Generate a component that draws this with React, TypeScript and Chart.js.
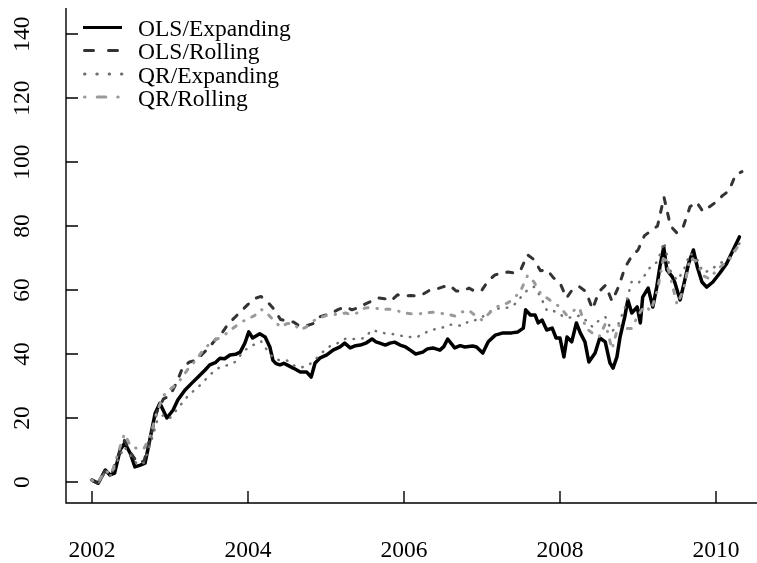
import React, { useEffect, useRef } from 'react';
import { Chart, registerables } from 'chart.js';

Chart.register(...registerables);

// OLS/Expanding: dates (decimal years) and values
const olsExpandingDates = [
  2002.00, 2002.08, 2002.17, 2002.23, 2002.29, 2002.36, 2002.42, 2002.49, 2002.55, 2002.62,
  2002.68, 2002.74, 2002.81, 2002.87, 2002.96, 2003.04, 2003.10, 2003.19, 2003.28, 2003.36,
  2003.45, 2003.51, 2003.58, 2003.64, 2003.70, 2003.77, 2003.84, 2003.90, 2003.96, 2004.01,
  2004.06, 2004.15, 2004.22, 2004.28, 2004.32, 2004.36, 2004.41, 2004.46, 2004.50, 2004.58,
  2004.67, 2004.75, 2004.81, 2004.86, 2004.92, 2005.01, 2005.09, 2005.18, 2005.24, 2005.31,
  2005.38, 2005.44, 2005.52, 2005.59, 2005.64, 2005.69, 2005.76, 2005.82, 2005.88, 2005.95,
  2006.02, 2006.08, 2006.15, 2006.24, 2006.30, 2006.37, 2006.46, 2006.51, 2006.56, 2006.65,
  2006.72, 2006.78, 2006.88, 2006.93, 2007.01, 2007.08, 2007.17, 2007.27, 2007.38, 2007.46,
  2007.53, 2007.56, 2007.62, 2007.68, 2007.72, 2007.77, 2007.83, 2007.90, 2007.95, 2008.00,
  2008.05, 2008.09, 2008.15, 2008.21, 2008.26, 2008.32, 2008.37, 2008.45, 2008.51, 2008.58,
  2008.64, 2008.68, 2008.73, 2008.77, 2008.83, 2008.87, 2008.92, 2008.99, 2009.03, 2009.06,
  2009.13, 2009.19, 2009.24, 2009.28, 2009.33, 2009.37, 2009.44, 2009.47, 2009.54, 2009.60,
  2009.65, 2009.71, 2009.76, 2009.82, 2009.88, 2009.96, 2010.05, 2010.14, 2010.22, 2010.30,
];
const olsExpanding = [
  0.6, -0.4, 3.75, 2.2, 2.8, 10, 12.2, 9, 4.7, 5.3,
  5.9, 13, 21.5, 24.6, 20, 22.5, 25.6, 28.7, 30.9, 32.8,
  35, 36.6, 37.3, 38.7, 38.5, 39.7, 39.9, 40.6, 43.4, 46.9,
  45, 46.3, 45.3, 42.2, 38, 37, 36.6, 37.1, 36.6, 35.6,
  34.4, 34.4, 32.8, 37.2, 38.7, 39.7, 41.2, 42.2, 43.4, 41.9,
  42.6, 42.8, 43.5, 44.7, 43.8, 43.4, 42.8, 43.4, 43.7, 42.8,
  42.2, 41.2, 40, 40.6, 41.6, 41.9, 41.2, 42.3, 44.7, 41.9,
  42.6, 42.2, 42.5, 42.2, 40.3, 43.8, 45.9, 46.6, 46.6, 46.9,
  48.1, 53.8, 52.2, 52.2, 49.7, 50.6, 47.5, 48.1, 45, 45,
  39.1, 45.3, 43.8, 49.7, 46.6, 43.8, 37.5, 40.3, 45, 43.8,
  37.2, 35.6, 39.1, 45.3, 51.6, 56.9, 52.8, 54.7, 49.7, 57.8,
  60.6, 54.7, 60.9, 67.2, 73.4, 66.3, 64.1, 62.5, 56.9, 63.1,
  68.4, 72.5, 67.2, 62.5, 60.9, 62.5, 65.3, 68.4, 72.5, 76.6,
];

// Other series: monthly observations starting January 2002
const START_YEAR = 2002;
const MONTHS_PER_YEAR = 12;

const olsRolling = [
  0.5, -0.5, 3.5, 2.5, 8, 13, 9, 6, 6.5, 14, 22, 26,
  27, 31, 36, 37.5, 38, 40, 42, 44.5, 46.6, 49.5, 51.5, 53.5,
  55.5, 57.3, 58, 56.3, 54, 50.8, 50.3, 50, 48.6, 48.8, 49.5, 51.6,
  52.2, 53, 54, 54.7, 53.8, 54.5, 55.6, 56.5, 57.5, 57.3, 56.6, 58.5,
  58.1, 58.3, 58.1, 58.8, 60, 60.3, 61, 61.5, 59.7, 59.7, 60.6, 59.5,
  60, 63, 64.7, 65.3, 65.6, 65.3, 66.5, 71, 69.5, 66, 66.3, 63.8,
  62.2, 57.5, 60.4, 61, 59.5, 54, 59.5, 61.5, 56.5, 61, 67, 70.5,
  72.5, 77, 78.5, 80, 89, 80, 77.8, 80, 86, 87.5, 84.5, 86,
  87.5, 89.5, 91, 96, 97,
];

const qrExpanding = [
  0.5, -0.5, 3, 2, 7, 11, 8, 5.5, 6, 12, 19, 21,
  20, 22.5, 25, 27.5, 29, 31, 33.2, 35, 36.3, 36.5, 37.5, 40,
  42, 43, 44, 41, 38.5, 38, 38, 36.5, 35.7, 36.2, 37.5, 39.7,
  41.5, 43, 43.5, 44.8, 44.7, 44.7, 45, 47.5, 47, 46.5, 46.3, 46,
  45.5, 45.3, 45.3, 46.3, 47.5, 47.8, 48.3, 49.2, 49, 48.8, 50.3, 50.6,
  51.5, 53, 54, 54.4, 54.5, 55.5, 57.8, 60, 61, 58, 53.5, 53.5,
  52.3, 51.3, 51.5, 52, 50.5, 48.5, 50.5, 51.5, 47, 49.5, 54.5, 62.5,
  62, 64.5, 67.5, 68.8, 75, 66, 63, 66, 71.5, 70, 65.5, 66,
  67.5, 68.8, 70, 73, 75.5,
];

const qrRolling = [
  0.5, 0, 3.5, 2.5, 9, 15, 11, 10.5, 10.5, 14.5, 22, 27,
  29, 30.5, 33, 36, 38, 41, 43, 44.5, 45.3, 47, 48.5, 50,
  51, 52, 54, 52.5, 50.5, 48.4, 49.5, 49.5, 47.5, 48.5, 50.3, 51.3,
  52, 52.2, 52.6, 52.8, 52.3, 53, 54.4, 54.5, 54.2, 54, 54, 53.5,
  52.8, 52.6, 52.5, 52.7, 53, 53.1, 52.6, 52.3, 51.8, 53.2, 53.6, 52,
  50.6, 52.5, 54.5, 55.3, 56, 57.5, 60, 64.5, 62.5, 59, 57.5, 56,
  54.7, 52.2, 53.5, 54.4, 48, 46.5, 45.3, 49.5, 41.5, 49, 48, 48,
  52, 55, 53.5, 60, 71, 64, 55.5, 60, 70, 69, 64.5, 63.5,
  66, 67.8, 69.4, 72.5, 75.5,
];

const monthlyDates = olsRolling.map((_, i) => START_YEAR + i / MONTHS_PER_YEAR);

const seriesLabels = ['OLS/Expanding', 'OLS/Rolling', 'QR/Expanding', 'QR/Rolling'];
const seriesDates = [olsExpandingDates, monthlyDates, monthlyDates, monthlyDates];
const seriesValues = [olsExpanding, olsRolling, qrExpanding, qrRolling];

const xTicks = [2002, 2004, 2006, 2008, 2010];
const yTicks = [0, 20, 40, 60, 80, 100, 120, 140];

// styles
const colors = ['#000000', '#333333', '#707070', '#9a9a9a'];
const lineWidths = [3.5, 3, 2.5, 3];
const dashes: number[][] = [[], [6, 10], [0.5, 8.2], [0.5, 8.5, 4, 9]];
const legendWidths = [3, 3, 3, 3];
const legendStart = [83, 84.5, 84.5, 84.5];
const legendDashes: number[][] = [[], [9, 15], [0.5, 11.8], [0.5, 12.2, 8.6, 11.9]];

const FONT = '23.5px "Liberation Serif", "Times New Roman", "DejaVu Serif", serif';

const W = 757;
const H = 563;

const axesPlugin = {
  id: 'rStyleAxes',
  afterDraw(chart: any) {
    const { ctx, chartArea: a, scales } = chart;
    const xs = scales.x;
    const ys = scales.y;
    ctx.save();
    ctx.strokeStyle = '#000';
    ctx.lineWidth = 1.4;
    ctx.lineCap = 'butt';
    ctx.setLineDash([]);
    ctx.beginPath();
    ctx.moveTo(a.left, a.top);
    ctx.lineTo(a.left, a.bottom);
    ctx.lineTo(a.right, a.bottom);
    ctx.stroke();
    ctx.beginPath();
    xs.ticks.forEach((t: any) => {
      const px = xs.getPixelForValue(t.value);
      ctx.moveTo(px, a.bottom);
      ctx.lineTo(px, a.bottom - 12);
    });
    ys.ticks.forEach((t: any) => {
      const py = ys.getPixelForValue(t.value);
      ctx.moveTo(a.left, py);
      ctx.lineTo(a.left + 12, py);
    });
    ctx.stroke();

    ctx.fillStyle = '#000';
    ctx.font = FONT;
    ctx.textAlign = 'center';
    ctx.textBaseline = 'alphabetic';
    xs.ticks.forEach((t: any) => {
      const px = xs.getPixelForValue(t.value);
      ctx.fillText(String(t.value), px, 557);
    });
    ys.ticks.forEach((t: any) => {
      const py = ys.getPixelForValue(t.value);
      ctx.save();
      ctx.translate(29, py);
      ctx.rotate(-Math.PI / 2);
      ctx.fillText(String(t.value), 0, 0);
      ctx.restore();
    });

    // legend
    const rowsY = [27.5, 50.5, 74, 97];
    seriesLabels.forEach((label, i) => {
      const ly = rowsY[i];
      ctx.strokeStyle = colors[i];
      ctx.lineWidth = legendWidths[i];
      ctx.lineCap = i === 0 ? 'butt' : 'round';
      ctx.setLineDash(legendDashes[i]);
      ctx.beginPath();
      ctx.moveTo(legendStart[i], ly);
      ctx.lineTo(122, ly);
      ctx.stroke();
      ctx.setLineDash([]);
      ctx.textAlign = 'left';
      ctx.fillStyle = '#000';
      ctx.fillText(label, 138, ly + 8.5);
    });
    ctx.restore();
  },
};

export default function App() {
  const ref = useRef<HTMLCanvasElement | null>(null);

  useEffect(() => {
    if (!ref.current) return;
    const datasets = seriesLabels.map((label, i) => ({
      label,
      data: seriesDates[i].map((d, j) => ({ x: d, y: seriesValues[i][j] })),
      borderColor: colors[i],
      backgroundColor: colors[i],
      borderWidth: lineWidths[i],
      borderDash: dashes[i],
      borderCapStyle: 'round' as const,
      borderJoinStyle: 'round' as const,
      pointRadius: 0,
      tension: 0,
      fill: false,
      order: seriesLabels.length - i,
    }));
    const chart = new Chart(ref.current, {
      type: 'line',
      data: { datasets },
      options: {
        animation: false,
        responsive: false,
        maintainAspectRatio: false,
        devicePixelRatio: 1,
        layout: { padding: { top: 8, left: 0, right: 0, bottom: 0 } },
        plugins: {
          legend: { display: false },
          tooltip: { enabled: false },
          title: { display: false },
        },
        scales: {
          x: {
            type: 'linear',
            min: 2002 - 26 / 78,
            max: 2002 + (757 - 92) / 78,
            grid: { display: false },
            border: { display: false },
            ticks: { display: false },
            afterBuildTicks: (s: any) => {
              s.ticks = xTicks.map((v) => ({ value: v }));
            },
            afterFit: (s: any) => {
              s.height = H - 503;
            },
          },
          y: {
            type: 'linear',
            min: -(503 - 482) / 3.2,
            max: (482 - 8) / 3.2,
            grid: { display: false },
            border: { display: false },
            ticks: { display: false },
            afterBuildTicks: (s: any) => {
              s.ticks = yTicks.map((v) => ({ value: v }));
            },
            afterFit: (s: any) => {
              s.width = 66;
            },
          },
        },
      } as any,
      plugins: [axesPlugin],
    });
    return () => chart.destroy();
  }, []);

  return (
    <div style={{ position: 'absolute', left: 0, top: 0, width: W, height: H, background: '#fff' }}>
      <canvas ref={ref} width={W} height={H} style={{ display: 'block', width: W, height: H }} />
    </div>
  );
}
